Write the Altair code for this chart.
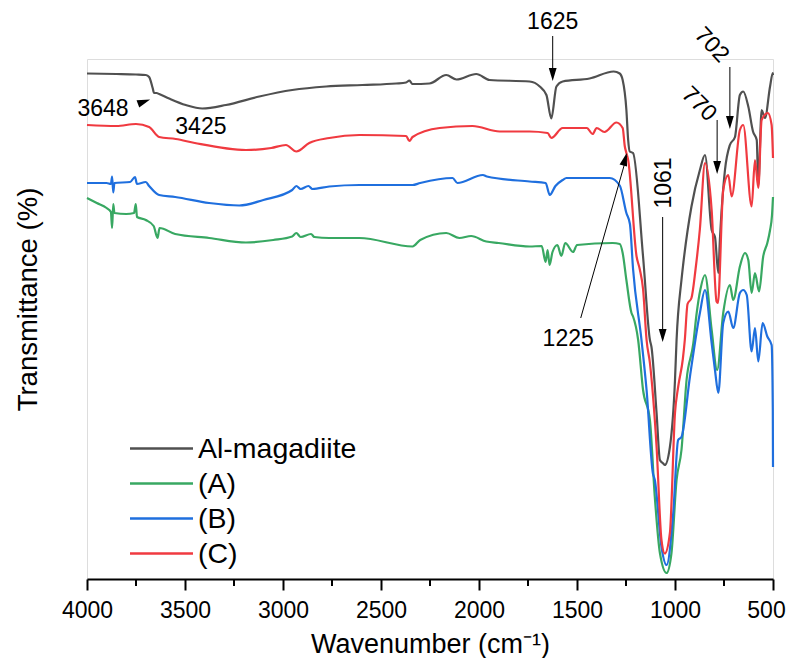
import altair as alt
import pandas as pd

# ---------------- spectra (wavenumber cm-1, transmittance a.u.) ----------------
wn_al = [4000, 3850, 3750, 3700, 3683, 3665, 3658, 3645, 3632, 3581, 3496, 3412, 3291, 3121,
         2953, 2780, 2595, 2423, 2372, 2355, 2340, 2253, 2167, 2115, 2014, 1946, 1742, 1690,
         1656, 1631, 1605, 1573, 1436, 1313, 1282, 1267, 1248, 1239, 1231, 1214, 1163, 1128,
         1120, 1094, 1077, 1060, 1052, 1026, 1000, 992, 967, 958, 916, 873, 847, 813, 796,
         779, 771, 745, 720, 694, 669, 652, 626, 602, 583, 575, 558, 541, 515, 501, 500]
t_al = [101.1, 101.0, 100.9, 100.8, 100.4, 98.2, 97.2, 97.2, 97.0, 96.1, 94.8, 94.1, 94.8, 96.5,
        97.8, 98.5, 98.8, 99.1, 99.3, 99.7, 99.0, 99.1, 100.8, 99.9, 101.0, 99.8, 99.5, 98.5,
        96.8, 92.1, 98.5, 99.5, 100.1, 101.5, 101.1, 99.8, 93.8, 87.8, 85.5, 85.2, 64.5, 47.8,
        46.4, 33.2, 23.8, 23.1, 22.8, 26.4, 39.8, 47.8, 59.8, 63.0, 74.5, 81.8, 84.8, 69.8, 68.4,
        61.2, 67.8, 81.8, 86.8, 88.4, 96.8, 97.5, 94.5, 89.5, 87.8, 78.8, 93.8, 92.2, 98.5, 101.2, 100.8]

wn_a = [4000, 3950, 3900, 3878, 3872, 3866, 3860, 3800, 3760, 3751, 3745, 3700, 3660, 3640,
        3630, 3550, 3377, 3189, 3050, 2953, 2932, 2910, 2857, 2840, 2764, 2610, 2339, 2300,
        2167, 2100, 2040, 1963, 1900, 1742, 1680, 1660, 1650, 1640, 1625, 1600, 1580, 1560,
        1520, 1500, 1318, 1282, 1267, 1248, 1222, 1214, 1188, 1163, 1128, 1103, 1077, 1043,
        1018, 992, 967, 941, 907, 890, 870, 847, 813, 785, 754, 720, 703, 669, 643, 626,
        609, 592, 571, 550, 529, 515, 505, 500]
t_a = [76.2, 75.2, 74.2, 73.4, 70.2, 75.0, 73.2, 73.0, 73.2, 75.0, 72.4, 71.8, 70.6, 68.2,
       70.2, 69.0, 68.2, 67.3, 67.8, 68.5, 69.2, 68.4, 69.0, 68.4, 68.2, 68.2, 66.5, 67.8,
       69.2, 68.2, 68.6, 67.5, 67.2, 66.5, 66.6, 63.4, 65.8, 62.8, 65.4, 66.8, 64.6, 67.2,
       65.4, 66.8, 67.2, 67.0, 65.2, 59.8, 53.2, 52.5, 47.8, 37.8, 31.8, 16.4, 5.2, 1.2,
       5.2, 19.8, 25.8, 39.8, 47.0, 53.0, 58.0, 60.8, 49.8, 41.8, 53.2, 58.8, 55.8, 62.5, 65.2, 63.8,
       57.2, 61.2, 57.5, 64.5, 67.2, 69.8, 72.8, 76.4]

wn_b = [4000, 3900, 3878, 3872, 3866, 3860, 3780, 3755, 3745, 3700, 3683, 3632, 3550, 3377,
        3223, 3100, 2953, 2932, 2910, 2870, 2850, 2764, 2610, 2339, 2300, 2135, 2110, 1980,
        1960, 1742, 1660, 1639, 1610, 1573, 1554, 1333, 1282, 1248, 1230, 1214, 1171, 1145,
        1113, 1103, 1069, 1043, 1009, 984, 967, 924, 873, 847, 813, 796, 779, 754, 728, 703,
        669, 652, 634, 609, 592, 575, 553, 529, 507, 501, 500]
t_b = [79.2, 79.2, 79.0, 80.5, 77.3, 79.2, 79.4, 80.4, 79.0, 79.4, 78.6, 76.8, 76.4, 75.2,
       74.7, 75.8, 77.8, 78.6, 78.0, 78.6, 78.0, 78.5, 78.8, 78.8, 79.2, 80.2, 79.2, 80.8,
       80.5, 79.5, 79.2, 76.8, 78.6, 79.8, 80.2, 80.2, 78.7, 73.2, 71.0, 62.0, 47.8, 37.8,
       21.2, 19.8, 6.4, 2.8, 13.2, 27.8, 28.4, 40.4, 53.2, 57.8, 47.2, 41.8, 37.2, 51.2, 53.5, 50.2,
       57.2, 57.8, 56.8, 45.5, 50.2, 43.5, 51.2, 48.5, 46.8, 33.8, 22.4]

wn_c = [4000, 3850, 3750, 3683, 3632, 3547, 3450, 3189, 3060, 2985, 2932, 2866, 2764, 2610,
        2372, 2355, 2339, 2201, 2033, 1895, 1742, 1650, 1631, 1573, 1450, 1420, 1400, 1360,
        1299, 1267, 1256, 1248, 1239, 1196, 1180, 1163, 1145, 1128, 1094, 1069, 1052, 1026,
        1000, 984, 960, 950, 936, 916, 895, 873, 847, 813, 788, 781, 754, 728, 711, 669, 652,
        609, 592, 575, 558, 526, 507, 500]
t_c = [90.8, 90.6, 91.0, 90.4, 88.4, 88.0, 87.2, 85.8, 86.2, 86.8, 85.5, 87.2, 88.2, 88.8,
       88.6, 87.6, 88.4, 90.2, 90.6, 89.5, 89.5, 89.2, 88.2, 90.2, 90.2, 89.0, 90.2, 89.4,
       91.3, 90.2, 86.5, 85.2, 83.8, 64.5, 62.0, 58.0, 47.8, 43.2, 26.4, 7.8, 5.1, 9.2,
       33.2, 38.4, 44.0, 47.8, 55.0, 56.2, 62.0, 70.0, 83.2, 73.8, 55.5, 55.2, 77.8, 80.8, 76.5, 89.8, 90.8,
       74.5, 83.8, 78.2, 91.8, 93.2, 90.8, 84.2]

sample_names = ["Al-magadiite", "(A)", "(B)", "(C)"]
sample_colors = ["#505050", "#38a862", "#1f6fde", "#f03a40"]

major_ticks = list(range(500, 4001, 500))
minor_ticks = list(range(750, 4000, 500))

# ---------------- annotations ----------------
ann_text = ["1625", "702", "770", "1061", "1225", "3648", "3425"]
ann_text_w = [1624, 813, 877, 1057, 1545, 3918, 3419]
ann_text_t = [111.4, 106.8, 95.0, 79.2, 48.0, 94.1, 90.5]
ann_text_angle = [0, 47, 45, 270, 0, 0, 0]

arrow_w1 = [1624, 720, 785, 1063, 1481]
arrow_t1 = [108.6, 102.4, 91.8, 72.4, 52.2]
arrow_w2 = [1624, 720, 785, 1063, 1246]
arrow_t2 = [100.2, 90.6, 81.6, 48.0, 84.6]

head_w = [1624, 720, 785, 1063, 1246, 3678]
head_t = [99.6, 90.0, 81.0, 47.4, 85.2, 95.9]
head_angle = [0, 0, 0, 0, 195.6, 250]

FONT = "Liberation Sans, Arial, sans-serif"

rows = []
for name, ws, ts in [("Al-magadiite", wn_al, t_al), ("(A)", wn_a, t_a),
                     ("(B)", wn_b, t_b), ("(C)", wn_c, t_c)]:
    for w, t in zip(ws, ts):
        rows.append({"wavenumber": w, "T": t, "sample": name})
df = pd.DataFrame(rows)

df_text = pd.DataFrame({"label": ann_text, "w": ann_text_w, "t": ann_text_t, "angle": ann_text_angle})
df_arrow = pd.DataFrame({"w1": arrow_w1, "t1": arrow_t1, "w2": arrow_w2, "t2": arrow_t2})
df_head = pd.DataFrame({"w": head_w, "t": head_t, "angle": head_angle})
df_minor = pd.DataFrame({"w": minor_ticks})

x_scale = alt.Scale(domain=[4000, 500], nice=False, zero=False)
y_scale = alt.Scale(domain=[0, 104], nice=False, zero=False)

x_axis = alt.Axis(
    values=major_ticks, format="d",
    tickSize=11, tickWidth=2, domainWidth=2, tickColor="black", domainColor="black",
    labelFont=FONT, labelFontSize=23, labelColor="black", labelPadding=9,
    labelOffset={"condition": {"test": "datum.value === 500", "value": -7}, "value": 0},
    labelFlush=False, labelOverlap=False, grid=False,
    title="Wavenumber (cm⁻¹)", titleFont=FONT, titleFontSize=27,
    titleFontWeight="normal", titleColor="black", titlePadding=9,
)
y_axis = alt.Axis(
    labels=False, ticks=False, domain=False, grid=False,
    title="Transmittance (%)", titleFont=FONT, titleFontSize=27.5,
    titleFontWeight="normal", titleColor="black", titlePadding=45, titleY=240,
)

lines = alt.Chart(df).mark_line(strokeWidth=2.2, interpolate="monotone").encode(
    x=alt.X("wavenumber:Q", scale=x_scale, axis=x_axis),
    y=alt.Y("T:Q", scale=y_scale, axis=y_axis),
    color=alt.Color(
        "sample:N",
        scale=alt.Scale(domain=sample_names, range=sample_colors),
        legend=alt.Legend(
            title=None, orient="none", legendX=57, legendY=372,
            symbolType="M-2,0H2", symbolSize=992, symbolStrokeWidth=2.7,
            labelFont=FONT, labelFontSize=28.5, labelColor="black",
            labelOffset=19, rowPadding=3.0, padding=0,
        ),
    ),
    detail="sample:N",
)

minor = alt.Chart(df_minor).mark_rule(color="black", strokeWidth=2).encode(
    x=alt.X("w:Q", scale=x_scale), y=alt.value(520), y2=alt.value(527),
)

arrows = alt.Chart(df_arrow).mark_rule(color="black", strokeWidth=1).encode(
    x=alt.X("w1:Q", scale=x_scale), y=alt.Y("t1:Q", scale=y_scale),
    x2="w2:Q", y2="t2:Q",
)

heads = alt.Chart(df_head).mark_point(
    shape="M0,0L-0.6,-2L0.6,-2Z", filled=True, size=169, color="black", opacity=1, strokeWidth=0
).encode(
    x=alt.X("w:Q", scale=x_scale), y=alt.Y("t:Q", scale=y_scale),
    angle=alt.Angle("angle:Q", scale=None),
)

texts = alt.Chart(df_text).mark_text(
    font=FONT, fontSize=23, color="black", align="center", baseline="middle"
).encode(
    x=alt.X("w:Q", scale=x_scale), y=alt.Y("t:Q", scale=y_scale),
    text="label:N", angle=alt.Angle("angle:Q", scale=None),
)

chart = alt.layer(lines, minor, arrows, heads, texts).properties(
    width=686, height=520,
    padding={"left": 79, "top": 51, "right": 13, "bottom": 79},
    autosize=alt.AutoSizeParams(type="none"),
).configure_view(stroke=None).configure(background="white")

chart.save("out.html", embed_options={"renderer": "svg", "actions": False})
